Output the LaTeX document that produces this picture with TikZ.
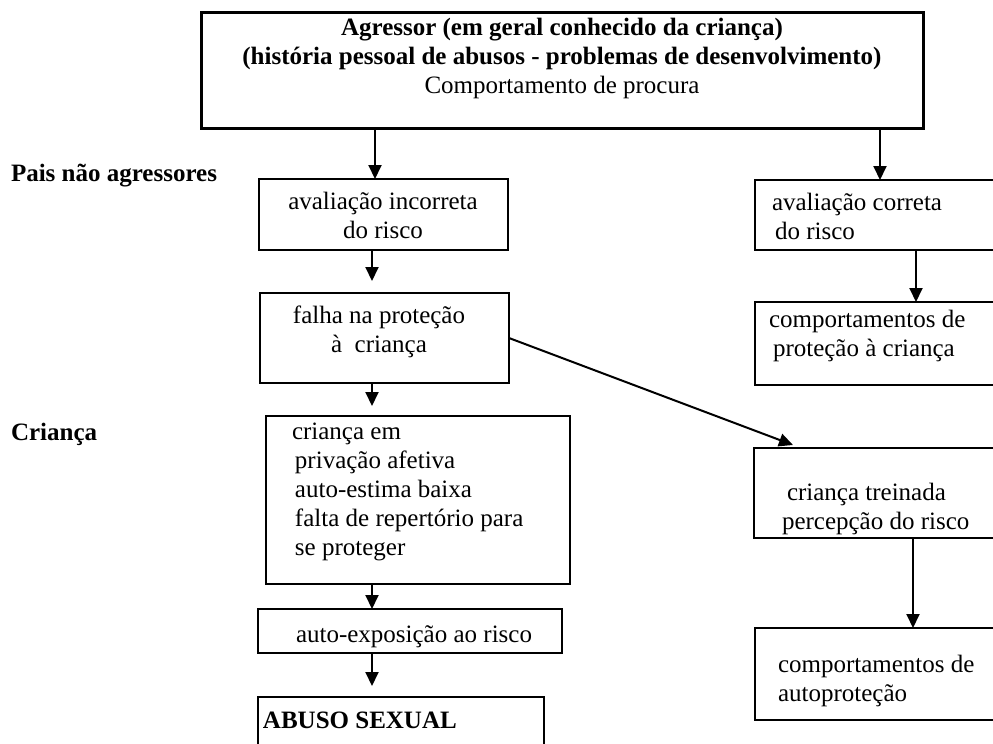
\documentclass[tikz,border=0pt]{standalone}
\usepackage{fontspec}
\setmainfont{Liberation Serif}
\usetikzlibrary{arrows.meta,fit}
\begin{document}
\begin{tikzpicture}[x=0.5pt,y=-0.5pt,
  box/.style={draw, line width=1pt, inner sep=0pt, outer sep=0pt},
  topbox/.style={draw, line width=1.5pt, inner sep=0pt, outer sep=0pt},
  txt/.style={inner sep=0pt, outer sep=0pt, font=\fontsize{12.5}{14.5}\selectfont},
  arr/.style={-{Triangle[length=7pt,width=6.5pt]}, line width=1pt}
]
\useasboundingbox (0,0) rectangle (993,744);
\clip (0,0) rectangle (993,744);

% boxes
\node[topbox, fit={(201,12) (923,128)}] (top) {};
\node[box, fit={(259,179) (508,250)}] (aval1) {};
\node[box, fit={(260,293) (509,383)}] (falha) {};
\node[box, fit={(266,416) (570,584)}] (crianca) {};
\node[box, fit={(258,609) (562,653)}] (expo) {};
\node[box, fit={(258,697) (544,770)}] (abuso) {};
\node[box, fit={(755,180) (1010,250)}] (aval2) {};
\node[box, fit={(755,302) (1010,385)}] (comp1) {};
\node[box, fit={(754,448) (1010,538)}] (treinada) {};
\node[box, fit={(755,628) (1010,720)}] (autoprot) {};

% texts
\node[txt, anchor=north, align=center] (ttop) at (562,14.7)
  {\strut\textbf{Agressor (em geral conhecido da criança)}\\
   \textbf{(história pessoal de abusos - problemas de desenvolvimento)}\\
   Comportamento de procura};
\node[txt, anchor=base west] (lpais) at (11,181) {\textbf{Pais não agressores}};
\node[txt, anchor=base west] (lcrianca) at (11,440) {\textbf{Criança}};

\node[txt, anchor=north, align=center] (taval1) at (383,188.7)
  {\strut avaliação incorreta\\do risco};
\node[txt, anchor=north, align=center] (tfalha) at (379,302.7)
  {\strut falha na proteção\\à\ \ criança};
\node[txt, anchor=north west, align=left] (tcrianca) at (292,418.7)
  {\strut criança em\\
   \hspace*{1.5pt}privação afetiva\\
   \hspace*{1.5pt}auto-estima baixa\\
   \hspace*{1.5pt}falta de repertório para\\
   \hspace*{1.5pt}se proteger};
\node[txt, anchor=base west] (texpo) at (296,642) {auto-exposição ao risco};
\node[txt, anchor=base west] (tabuso) at (263,728) {\textbf{ABUSO SEXUAL}};

\node[txt, anchor=north west, align=left] (taval2) at (772,189.7)
  {\strut avaliação correta\\\hspace*{1.5pt}do risco};
\node[txt, anchor=north west, align=left] (tcomp1) at (769,306.7)
  {\strut comportamentos de\\\hspace*{2pt}proteção à criança};
\node[txt, anchor=north west, align=left] (ttreinada) at (782,479.7)
  {\strut\hspace*{2.5pt}criança treinada\\percepção do risco};
\node[txt, anchor=north west, align=left] (tautoprot) at (778,651.7)
  {\strut comportamentos de\\autoproteção};

% arrow columns
\coordinate (cA) at (375,0);
\coordinate (cB) at (372,0);
\coordinate (cR1) at (880,0);
\coordinate (cR2) at (916,0);
\coordinate (cR3) at (913,0);
\coordinate (tend) at (793,445);

% connectors
\draw[arr] (top.south -| cA) -- (aval1.north -| cA);
\draw[arr, shorten >=6pt] (aval1.south -| cB) -- (falha.north -| cB);
\draw[arr, shorten >=5pt] (falha.south -| cB) -- (crianca.north -| cB);
\draw[arr] (crianca.south -| cB) -- (expo.north -| cB);
\draw[arr, shorten >=5.5pt] (expo.south -| cB) -- (abuso.north -| cB);
\draw[arr] (top.south -| cR1) -- (aval2.north -| cR1);
\draw[arr] (aval2.south -| cR2) -- (comp1.north -| cR2);
\draw[arr] (treinada.south -| cR3) -- (autoprot.north -| cR3);
\draw[arr] (falha.east) -- (tend);
\end{tikzpicture}
\end{document}
